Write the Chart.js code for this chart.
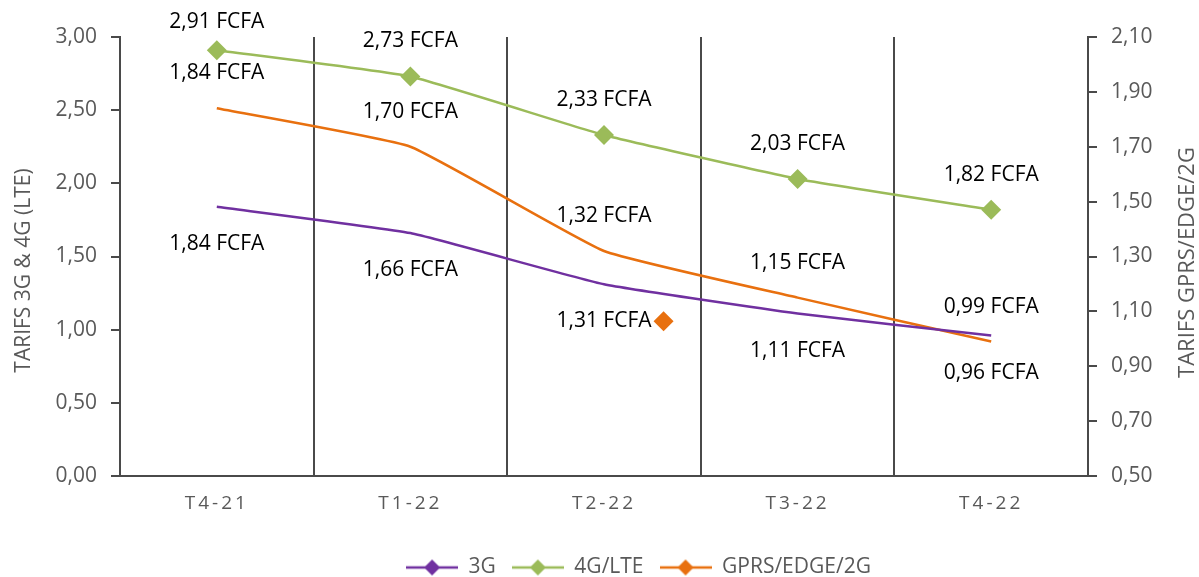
<!DOCTYPE html>
<html>
<head>
<meta charset="utf-8">
<script src="https://cdn.jsdelivr.net/npm/chart.js@4/dist/chart.umd.min.js"></script>
<style>
  html, body { margin: 0; padding: 0; background: #fff; }
  #wrap { width: 1199px; height: 577px; }
</style>
</head>
<body>
<div id="wrap"><canvas id="myChart" width="1199" height="577"></canvas></div>
<script>
//data
const quarters = ["T4-21", "T1-22", "T2-22", "T3-22", "T4-22"];
const tarif3G = [1.84, 1.66, 1.31, 1.11, 0.96];
const tarif4G = [2.91, 2.73, 2.33, 2.03, 1.82];
const tarif2G = [1.84, 1.70, 1.32, 1.15, 0.99];

const leftTicks = [0, 0.5, 1, 1.5, 2, 2.5, 3];
const rightTicks = [0.5, 0.7, 0.9, 1.1, 1.3, 1.5, 1.7, 1.9, 2.1];

const leftTitle = "TARIFS 3G & 4G (LTE)";
const rightTitle = "TARIFS GPRS/EDGE/2G";

//colors
const purple = "#7030A0";
const green = "#9BBB59";
const orange = "#E8700F";
const axisGrey = "#595959";
const lineGrey = "#4A4A4A";
const FONT = "'Open Sans', 'Noto Sans', sans-serif";

function fmt(v) {
    return v.toFixed(2).replace(".", ",");
}

//small diamond drawn on a canvas
function diamond(ctx, x, y, r, color) {
    ctx.beginPath();
    ctx.moveTo(x, y - r);
    ctx.lineTo(x + r, y);
    ctx.lineTo(x, y + r);
    ctx.lineTo(x - r, y);
    ctx.closePath();
    ctx.fillStyle = color;
    ctx.fill();
}

//legend icon: line with diamond in the middle
function legendIcon(color) {
    const c = document.createElement("canvas");
    c.width = 52;
    c.height = 20;
    const g = c.getContext("2d");
    g.strokeStyle = color;
    g.lineWidth = 2.5;
    g.beginPath();
    g.moveTo(0, 10);
    g.lineTo(52, 10);
    g.stroke();
    diamond(g, 26, 10, 8, color);
    return c;
}

//vertical axis title, reading bottom to top
function sideTitle(ctx, text, x, y, size) {
    ctx.save();
    ctx.translate(x, y);
    ctx.rotate(-Math.PI / 2);
    ctx.font = size + "px " + FONT;
    ctx.fillStyle = axisGrey;
    ctx.textAlign = "center";
    ctx.textBaseline = "middle";
    ctx.fillText(text, 0, 0);
    ctx.restore();
}

//data labels under / over the points, axis titles, spaced x labels
const pointLabels = {
    id: "pointLabels",
    afterLayout(chart) {
        const sc = chart.scales.x;
        if (!sc._spaced) {
            const orig = sc.drawLabels;
            sc.drawLabels = function (area) {
                this.ctx.save();
                this.ctx.letterSpacing = "3px";
                orig.call(this, area);
                this.ctx.restore();
            };
            sc._spaced = true;
        }
        // legend sits a bit right of centre and low in the original
        chart.legend.left += 39;
        chart.legend.right += 39;
        chart.legend.top += 11;
        chart.legend.bottom += 11;
    },
    afterDraw(chart) {
        const ctx = chart.ctx;
        const area = chart.chartArea;
        const mid = (area.top + area.bottom) / 2;
        sideTitle(ctx, leftTitle, 24, mid + 14, 21);
        sideTitle(ctx, rightTitle, chart.width - 11, mid + 6, 22);
    },
    afterDatasetsDraw(chart) {
        const ctx = chart.ctx;
        ctx.save();
        ctx.font = "21px " + FONT;
        ctx.textAlign = "center";
        ctx.textBaseline = "middle";
        chart.data.datasets.forEach((ds, i) => {
            const meta = chart.getDatasetMeta(i);
            meta.data.forEach((pt, j) => {
                let y = pt.y + ds.labelOffset;
                y = Math.max(y, chart.chartArea.top - 15);
                const txt = fmt(ds.data[j]) + " FCFA";
                ctx.fillStyle = "#000";
                ctx.fillText(txt, pt.x, y);
                if (ds.keyAt === j) {
                    const w = ctx.measureText(txt).width;
                    diamond(ctx, pt.x + w / 2 + 12, y, 10, orange);
                }
            });
        });
        ctx.restore();
    }
};

const ctx = document.getElementById("myChart").getContext("2d");
const chart = new Chart(ctx, {
    type: "line",
    data: {
        labels: quarters,
        datasets: [{
            label: "3G",
            data: tarif3G,
            yAxisID: "y",
            borderColor: purple,
            borderWidth: 2.5,
            pointRadius: 0,
            tension: 0.12,
            labelOffset: 37,
            keyAt: 2,
            icon: legendIcon(purple)
        }, {
            label: "4G/LTE",
            data: tarif4G,
            yAxisID: "y",
            borderColor: green,
            backgroundColor: green,
            borderWidth: 2.5,
            pointStyle: "rectRot",
            pointRadius: 10,
            pointBorderWidth: 0,
            tension: 0.12,
            labelOffset: -35,
            icon: legendIcon(green)
        }, {
            label: "GPRS/EDGE/2G",
            data: tarif2G,
            yAxisID: "y1",
            borderColor: orange,
            borderWidth: 2.5,
            pointRadius: 0,
            tension: 0.12,
            labelOffset: -35,
            icon: legendIcon(orange)
        }]
    },
    options: {
        responsive: false,
        animation: false,
        layout: { padding: { top: 37, left: 0, right: 0, bottom: 0 } },
        plugins: {
            tooltip: { enabled: false },
            legend: {
                position: "bottom",
                labels: {
                    usePointStyle: true,
                    pointStyleWidth: 52,
                    padding: 16,
                    color: axisGrey,
                    font: { family: FONT, size: 21 },
                    generateLabels(chart) {
                        return chart.data.datasets.map((ds, i) => ({
                            text: ds.label,
                            pointStyle: ds.icon,
                            fillStyle: ds.borderColor,
                            strokeStyle: ds.borderColor,
                            lineWidth: 0,
                            fontColor: axisGrey,
                            datasetIndex: i
                        }));
                    }
                }
            }
        },
        scales: {
            x: {
                offset: true,
                grid: {
                    offset: true,
                    color: lineGrey,
                    lineWidth: 2,
                    drawTicks: false
                },
                border: { color: lineGrey, width: 2 },
                ticks: {
                    color: axisGrey,
                    padding: 16,
                    font: { family: FONT, size: 19 }
                },
                afterFit(scale) { scale.height = 54; }
            },
            y: {
                position: "left",
                min: 0,
                max: 3,
                afterBuildTicks(scale) { scale.ticks = leftTicks.map(v => ({ value: v })); },
                grid: { drawOnChartArea: false, color: lineGrey, tickLength: 9, lineWidth: 2 },
                border: { color: lineGrey, width: 2 },
                ticks: {
                    color: axisGrey,
                    padding: 14,
                    font: { family: FONT, size: 21 },
                    callback: v => fmt(v)
                },
                afterFit(scale) { scale.width = 120; }
            },
            y1: {
                position: "right",
                min: 0.5,
                max: 2.1,
                afterBuildTicks(scale) { scale.ticks = rightTicks.map(v => ({ value: v })); },
                grid: { drawOnChartArea: false, color: lineGrey, tickLength: 9, lineWidth: 2 },
                border: { color: lineGrey, width: 2 },
                ticks: {
                    color: axisGrey,
                    padding: 14,
                    font: { family: FONT, size: 21 },
                    callback: v => fmt(v)
                },
                afterFit(scale) { scale.width = 111; }
            }
        }
    },
    plugins: [pointLabels]
});
</script>
</body>
</html>
